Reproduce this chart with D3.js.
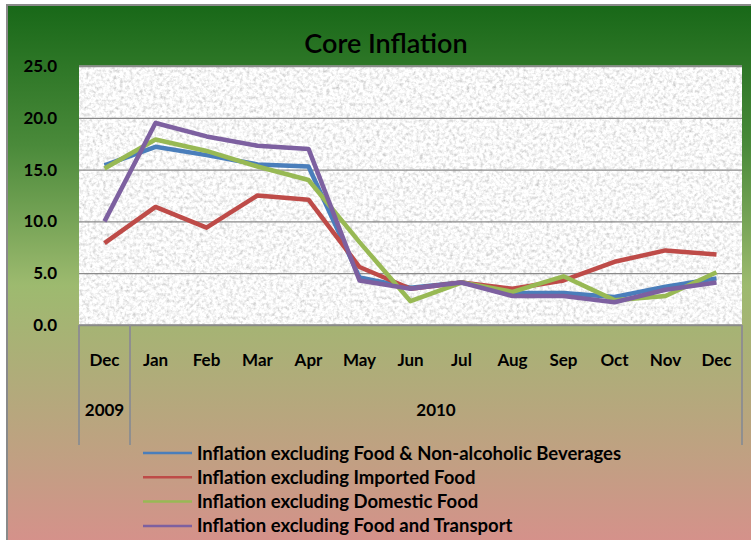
<!DOCTYPE html>
<html>
<head>
<meta charset="utf-8">
<script src="https://cdn.jsdelivr.net/npm/d3@7"></script>
<style>
  html, body { margin: 0; padding: 0; background: #fff; }
  svg text { font-family: Lato, "Open Sans", sans-serif; fill: #000; }
</style>
</head>
<body>
<svg id="chart" width="751" height="540"></svg>
<script>
// chart data
var months = ['Dec', 'Jan', 'Feb', 'Mar', 'Apr', 'May', 'Jun', 'Jul', 'Aug', 'Sep', 'Oct', 'Nov', 'Dec'];
var years = [{ label: '2009', from: 0, to: 0 }, { label: '2010', from: 1, to: 12 }];
var yTicks = [0, 5, 10, 15, 20, 25];

var exFoodBev = [15.4, 17.2, 16.4, 15.5, 15.3, 4.6, 3.6, 4.1, 3.1, 3.1, 2.7, 3.7, 4.5];
var exImported = [7.9, 11.4, 9.4, 12.5, 12.1, 5.6, 3.5, 4.1, 3.5, 4.3, 6.1, 7.2, 6.8];
var exDomestic = [15.1, 17.9, 16.8, 15.3, 14.0, 8.0, 2.3, 4.1, 3.2, 4.7, 2.4, 2.8, 5.1];
var exFoodTransport = [10.0, 19.5, 18.2, 17.3, 17.0, 4.3, 3.5, 4.1, 2.8, 2.8, 2.2, 3.4, 4.1];

var seriesNames = [
  'Inflation excluding Food & Non-alcoholic Beverages',
  'Inflation excluding Imported Food',
  'Inflation excluding Domestic Food',
  'Inflation excluding Food and Transport'
];
var seriesColors = ['#4a7ebb', '#be4b48', '#98b954', '#7d60a0'];
var seriesValues = [exFoodBev, exImported, exDomestic, exFoodTransport];

var svg = d3.select('#chart');
var defs = svg.append('defs');

// background gradient
var grad = defs.append('linearGradient')
  .attr('id', 'bg').attr('x1', 0).attr('y1', 0).attr('x2', 0).attr('y2', 1);
[[0, '#186818'], [0.25, '#4a8a3a'], [0.5, '#9dba6f'], [0.7, '#b4a97c'], [0.82, '#c29f83'], [1, '#db8d8d']]
  .forEach(function(s) {
    grad.append('stop').attr('offset', s[0]).attr('stop-color', s[1]);
  });

// granite texture for plot area
var filt = defs.append('filter').attr('id', 'granite')
  .attr('x', 0).attr('y', 0).attr('width', 1).attr('height', 1);
filt.append('feTurbulence')
  .attr('type', 'fractalNoise').attr('baseFrequency', 0.3).attr('numOctaves', 3).attr('seed', 4);
filt.append('feColorMatrix').attr('type', 'saturate').attr('values', 0);
var ct = filt.append('feComponentTransfer');
['feFuncR', 'feFuncG', 'feFuncB'].forEach(function(f) {
  ct.append(f).attr('type', 'linear').attr('slope', 1.1).attr('intercept', 0.38);
});
ct.append('feFuncA').attr('type', 'linear').attr('slope', 0).attr('intercept', 1);

// outer frame
svg.append('rect')
  .attr('x', 7).attr('y', 5).attr('width', 760).attr('height', 560)
  .attr('fill', 'url(#bg)')
  .attr('stroke', '#8a8a8a').attr('stroke-width', 2);

var plot = { left: 79, right: 742, top: 66, bottom: 325 };

var x = d3.scaleBand()
  .domain(d3.range(months.length))
  .range([plot.left, plot.right]);

var y = d3.scaleLinear()
  .domain([0, 25])
  .range([plot.bottom, plot.top]);

// title
svg.append('text')
  .attr('x', 386).attr('y', 53)
  .attr('text-anchor', 'middle')
  .style('font-size', '27px')
  .style('font-weight', 600)
  .text('Core Inflation');

// plot area
svg.append('rect')
  .attr('x', plot.left).attr('y', plot.top)
  .attr('width', plot.right - plot.left).attr('height', plot.bottom - plot.top)
  .attr('filter', 'url(#granite)');

svg.append('line')
  .attr('x1', plot.left).attr('x2', plot.right)
  .attr('y1', plot.top).attr('y2', plot.top)
  .attr('stroke', '#9a9a9a').attr('stroke-width', 1.5);

// y axis with gridlines
var yAxis = svg.append('g')
  .attr('transform', 'translate(' + plot.left + ',0)')
  .call(d3.axisLeft(y).tickValues(yTicks)
    .tickSize(-(plot.right - plot.left))
    .tickPadding(22)
    .tickFormat(d3.format('.1f')));
yAxis.select('.domain').remove();
yAxis.selectAll('.tick line').attr('stroke', '#8a8a8a').attr('stroke-width', 1.3);
yAxis.selectAll('.tick text')
  .style('font-size', '17px').style('font-weight', 700)
  .attr('font-family', null);

// category axis (two levels)
var axisBottom = 445;
svg.append('line')
  .attr('x1', plot.left).attr('x2', plot.right)
  .attr('y1', plot.bottom).attr('y2', plot.bottom)
  .attr('stroke', '#8a8a8a').attr('stroke-width', 1.5);

var seps = [plot.left, x(1), plot.right];
svg.selectAll('line.sep').data(seps).enter().append('line')
  .attr('class', 'sep')
  .attr('x1', function(d) { return d; }).attr('x2', function(d) { return d; })
  .attr('y1', plot.bottom).attr('y2', axisBottom)
  .attr('stroke', '#8f8f8f').attr('stroke-width', 2);

svg.selectAll('text.month').data(months).enter().append('text')
  .attr('class', 'month')
  .attr('x', function(d, i) { return x(i) + x.bandwidth() / 2; })
  .attr('y', 366)
  .attr('text-anchor', 'middle')
  .style('font-size', '17px').style('font-weight', 700)
  .text(function(d) { return d; });

svg.selectAll('text.year').data(years).enter().append('text')
  .attr('class', 'year')
  .attr('x', function(d) { return (x(d.from) + x(d.to) + x.bandwidth()) / 2; })
  .attr('y', 416)
  .attr('text-anchor', 'middle')
  .style('font-size', '17px').style('font-weight', 700)
  .text(function(d) { return d.label; });

// series lines
var line = d3.line()
  .x(function(d, i) { return x(i) + x.bandwidth() / 2; })
  .y(function(d) { return y(d); });

svg.selectAll('path.series').data(seriesValues).enter().append('path')
  .attr('class', 'series')
  .attr('d', line)
  .attr('fill', 'none')
  .attr('stroke', function(d, i) { return seriesColors[i]; })
  .attr('stroke-width', 4.5)
  .attr('stroke-linejoin', 'round');

// legend
var legend = svg.selectAll('g.legend').data(seriesNames).enter().append('g')
  .attr('class', 'legend')
  .attr('transform', function(d, i) { return 'translate(143,' + (453 + i * 24.3) + ')'; });

legend.append('line')
  .attr('x1', 0).attr('x2', 49)
  .attr('stroke', function(d, i) { return seriesColors[i]; })
  .attr('stroke-width', 2.5);

legend.append('text')
  .attr('x', 54).attr('y', 6.5)
  .style('font-size', '18.5px').style('font-weight', 700)
  .text(function(d) { return d; });
</script>
</body>
</html>
